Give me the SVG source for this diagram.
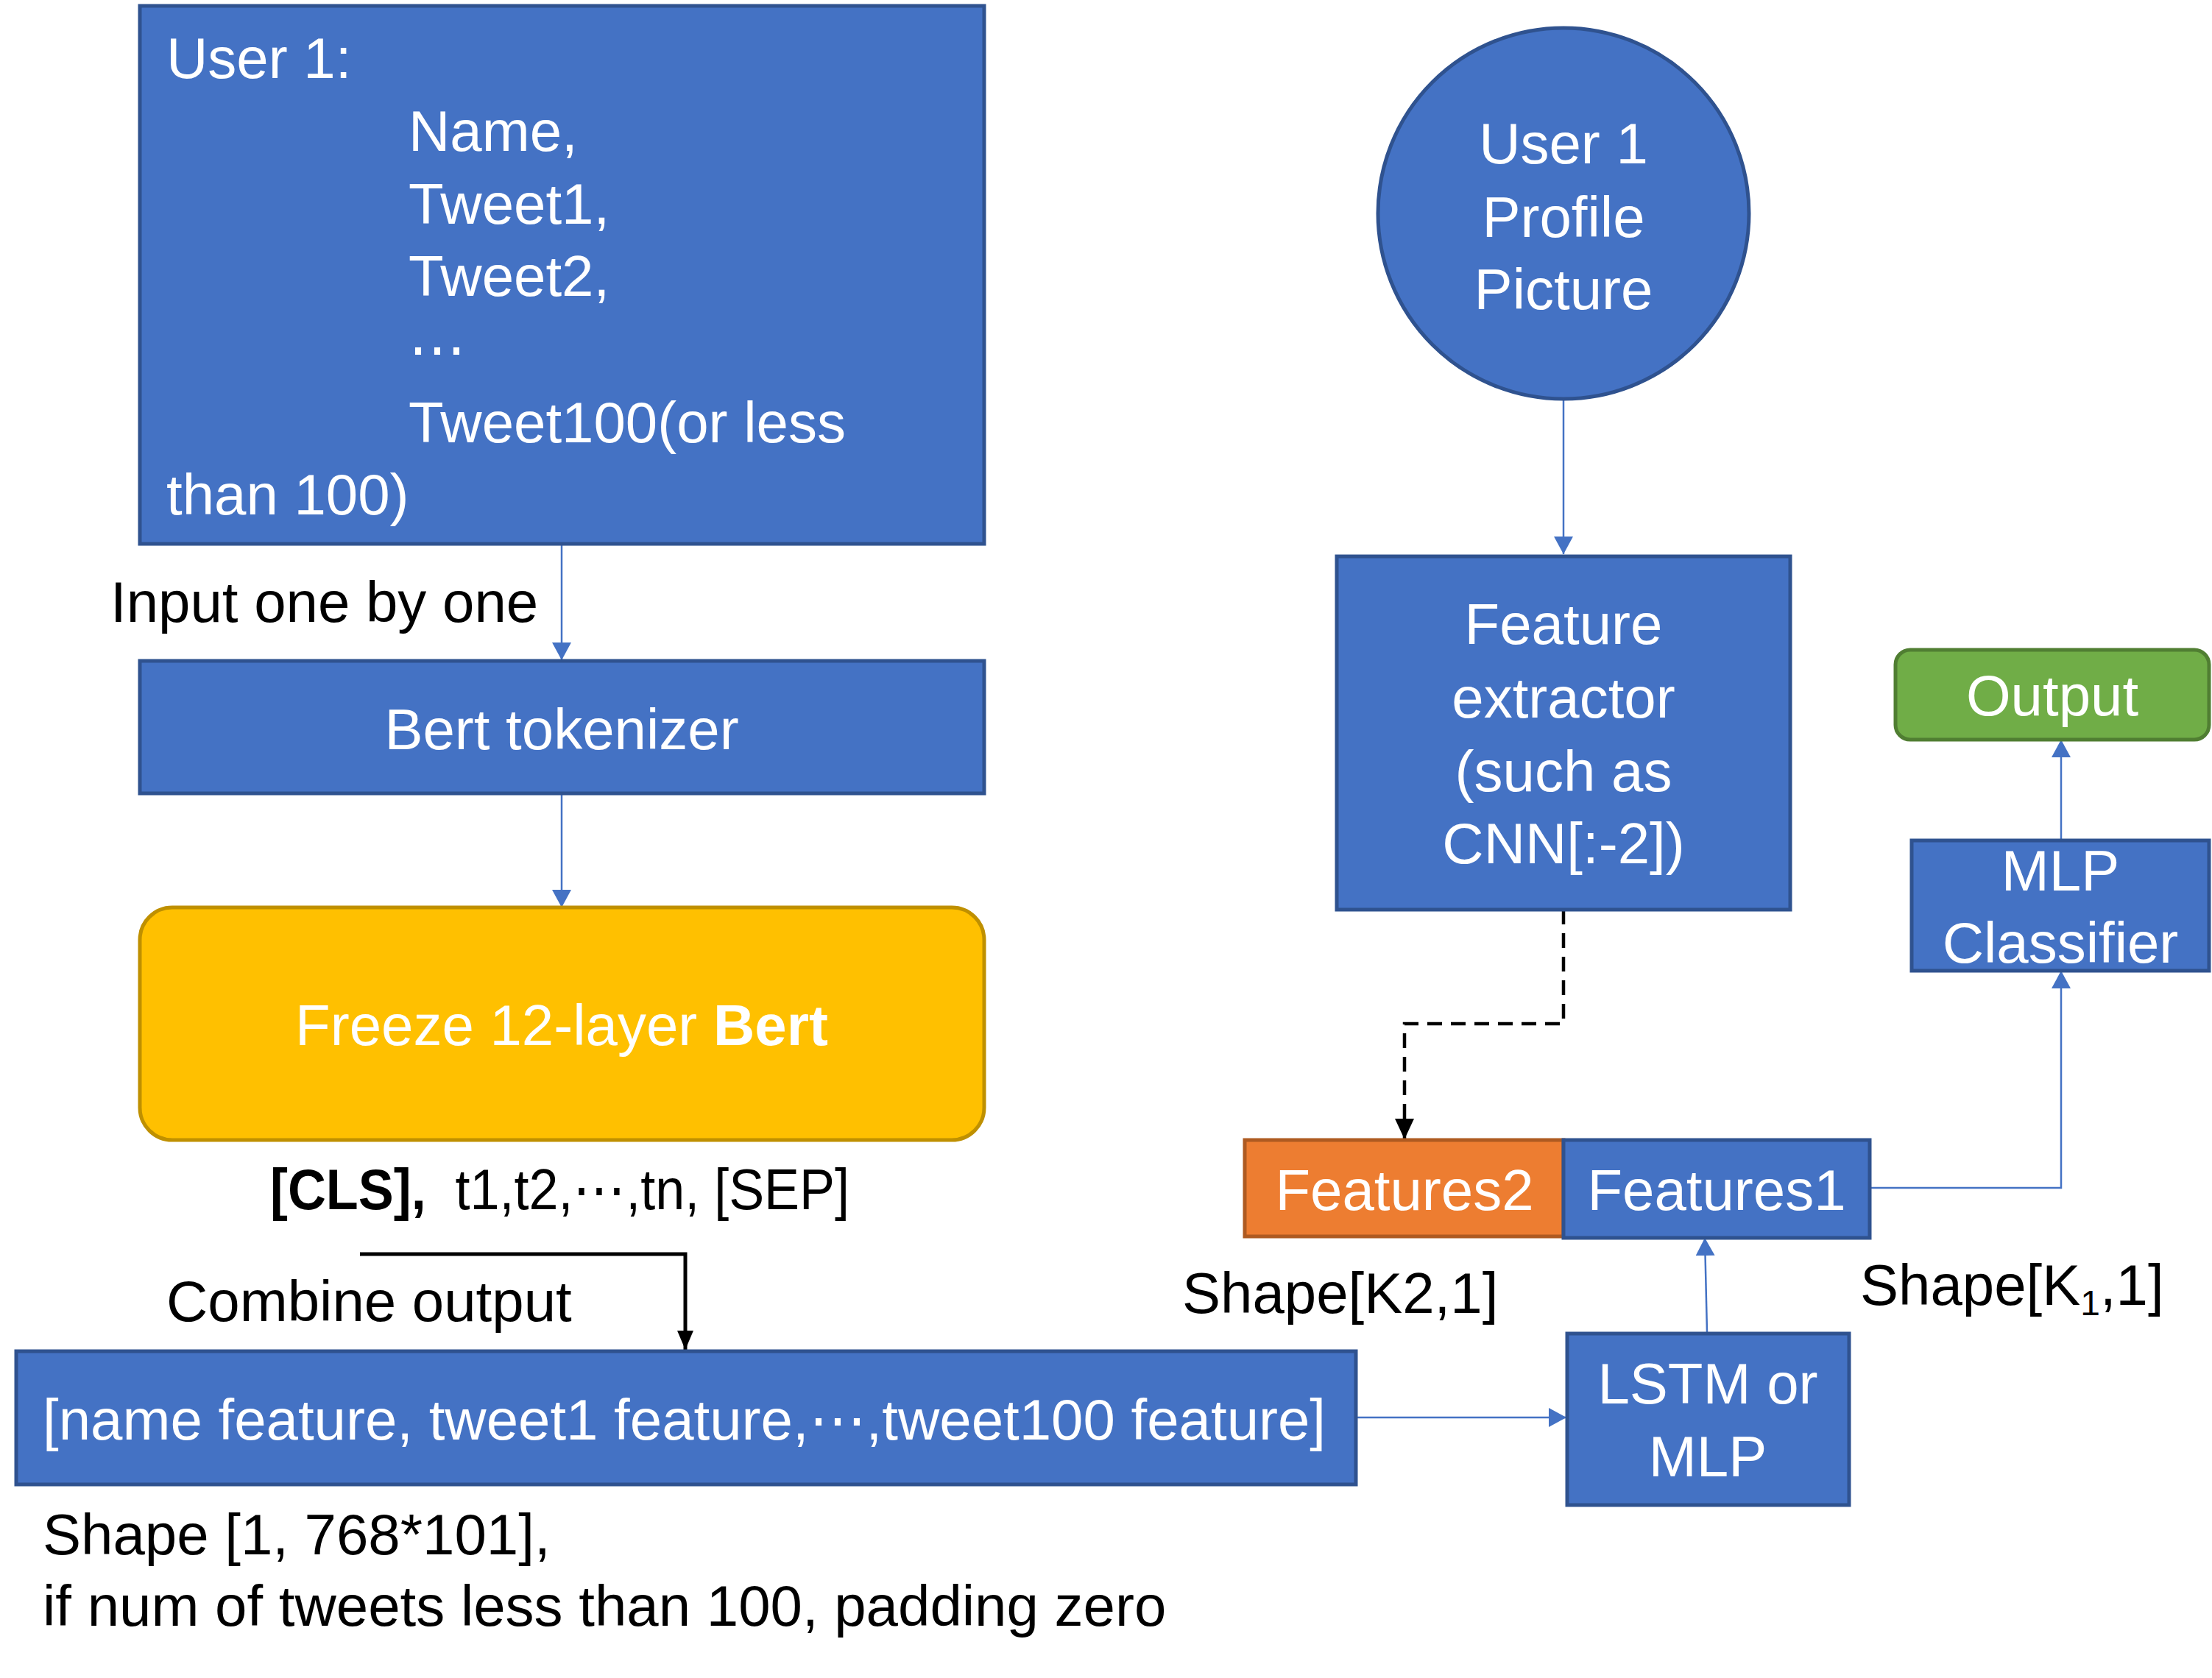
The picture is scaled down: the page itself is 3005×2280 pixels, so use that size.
<svg xmlns="http://www.w3.org/2000/svg" width="3005" height="2280" viewBox="0 0 3005 2280">
<style>
text{font-family:"Liberation Sans",Arial,sans-serif;font-size:78px}
.w{fill:#FFFFFF}
.k{fill:#000000}
.c{text-anchor:middle}
.blue{fill:#4472C4;stroke:#2F528F;stroke-width:5}
.orange{fill:#ED7D31;stroke:#AE5A21;stroke-width:5}
.gold{fill:#FFC000;stroke:#BF9000;stroke-width:5}
.green{fill:#70AD47;stroke:#507E32;stroke-width:5}
.bl{fill:none;stroke:#4472C4;stroke-width:2.5}
.bk{fill:none;stroke:#000000;stroke-width:5}
.dash{fill:none;stroke:#000000;stroke-width:4.5;stroke-dasharray:20 12}
</style>
<defs>
<marker id="ab" markerUnits="userSpaceOnUse" markerWidth="26" markerHeight="28" refX="24" refY="13" orient="auto">
<path d="M0,0 L24,13 L0,26 z" fill="#4472C4"/>
</marker>
<marker id="ak" markerUnits="userSpaceOnUse" markerWidth="28" markerHeight="24" refX="26" refY="11" orient="auto">
<path d="M0,0 L26,11 L0,22 z" fill="#000000"/>
</marker>
<marker id="ad" markerUnits="userSpaceOnUse" markerWidth="30" markerHeight="30" refX="28" refY="13" orient="auto">
<path d="M0,0 L28,13 L0,26 z" fill="#000000"/>
</marker>
</defs>
<rect width="3005" height="2280" fill="#FFFFFF"/>

<g id="connectors">
<line class="bl" x1="763" y1="739" x2="763" y2="897" marker-end="url(#ab)"/>
<line class="bl" x1="763" y1="1078" x2="763" y2="1233" marker-end="url(#ab)"/>
<polyline class="bk" points="489,1704 931,1704 931,1834" marker-end="url(#ak)"/>
<line class="bl" x1="1842" y1="1926" x2="2128" y2="1926" marker-end="url(#ab)"/>
<line class="bl" x1="2319" y1="1810" x2="2316" y2="1682" marker-end="url(#ab)"/>
<polyline class="bl" points="2540,1614 2800,1614 2800,1319" marker-end="url(#ab)"/>
<line class="bl" x1="2800" y1="1141" x2="2800" y2="1005" marker-end="url(#ab)"/>
<line class="bl" x1="2124" y1="542" x2="2124" y2="753" marker-end="url(#ab)"/>
<polyline class="dash" points="2124,1236 2124,1391 1908,1391 1908,1548" marker-end="url(#ad)"/>
</g>

<g id="user1">
<rect class="blue" x="190" y="8" width="1147" height="731"/>
<text class="w" x="226" y="106">User 1:</text>
<text class="w" x="555" y="205">Name,</text>
<text class="w" x="555" y="304">Tweet1,</text>
<text class="w" x="555" y="402">Tweet2,</text>
<text class="w" x="555" y="501">⋯</text>
<text class="w" x="555" y="601">Tweet100(or less</text>
<text class="w" x="226" y="699">than 100)</text>
</g>

<g id="input-label">
<text class="k" x="150" y="845">Input one by one</text>
</g>

<g id="tokenizer">
<rect class="blue" x="190" y="898" width="1147" height="180"/>
<text class="w c" x="763" y="1018">Bert tokenizer</text>
</g>

<g id="bert">
<rect class="gold" x="190" y="1233" width="1147" height="316" rx="44" ry="44"/>
<text class="w c" x="763" y="1420">Freeze 12-layer <tspan font-weight="bold">Bert</tspan></text>
</g>

<g id="bert-output-label">
<text class="k" x="367" y="1643" xml:space="preserve" textLength="787" lengthAdjust="spacingAndGlyphs"><tspan font-weight="bold">[CLS],</tspan>  t1,t2,⋯,tn, [SEP]</text>
</g>

<g id="combine-label">
<text class="k" x="226" y="1795">Combine output</text>
</g>

<g id="combined">
<rect class="blue" x="22" y="1836" width="1820" height="181"/>
<text class="w" x="58" y="1956">[name feature, tweet1 feature,⋯,tweet100 feature]</text>
</g>

<g id="combined-shape">
<text class="k" x="58" y="2112">Shape [1, 768*101],</text>
<text class="k" x="58" y="2209">if num of tweets less than 100, padding zero</text>
</g>

<g id="profile">
<circle class="blue" cx="2124" cy="290" r="252"/>
<text class="w c" x="2124" y="222">User 1</text>
<text class="w c" x="2124" y="322">Profile</text>
<text class="w c" x="2124" y="420">Picture</text>
</g>

<g id="extractor">
<rect class="blue" x="1816" y="756" width="616" height="480"/>
<text class="w c" x="2124" y="875">Feature</text>
<text class="w c" x="2124" y="975">extractor</text>
<text class="w c" x="2124" y="1075">(such as</text>
<text class="w c" x="2124" y="1173">CNN[:-2])</text>
</g>

<g id="features2">
<rect class="orange" x="1691" y="1549" width="433" height="131"/>
<text class="w c" x="1908" y="1644">Features2</text>
</g>

<g id="features1">
<rect class="blue" x="2124" y="1549" width="416" height="133"/>
<text class="w c" x="2332" y="1644">Features1</text>
</g>

<g id="shape-k2">
<text class="k" x="1606" y="1784">Shape[K2,1]</text>
</g>

<g id="shape-k1">
<text class="k" x="2527" y="1773">Shape[K<tspan font-size="48" dy="14">1</tspan><tspan dy="-14">,1]</tspan></text>
</g>

<g id="lstm">
<rect class="blue" x="2129" y="1812" width="383" height="233"/>
<text class="w c" x="2320" y="1907">LSTM or</text>
<text class="w c" x="2320" y="2006">MLP</text>
</g>

<g id="mlp">
<rect class="blue" x="2597" y="1142" width="404" height="177"/>
<text class="w c" x="2799" y="1210">MLP</text>
<text class="w c" x="2799" y="1308">Classifier</text>
</g>

<g id="output">
<rect class="green" x="2575" y="883" width="426" height="122" rx="20" ry="20"/>
<text class="w c" x="2788" y="972">Output</text>
</g>
</svg>
